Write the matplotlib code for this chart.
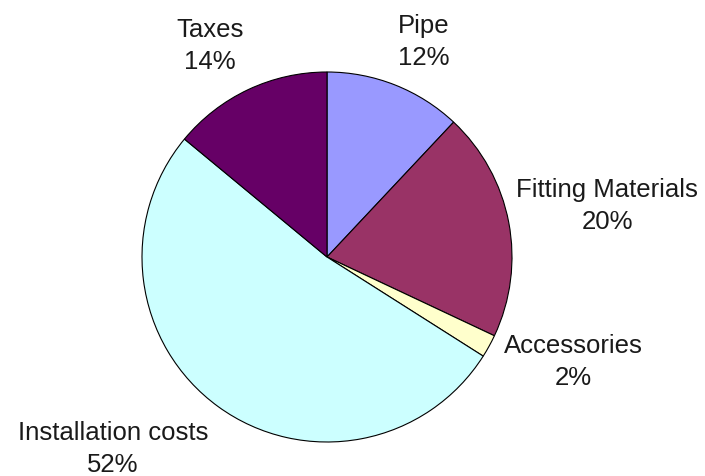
import matplotlib
matplotlib.use('Agg')
import matplotlib.pyplot as plt

# cost breakdown, clockwise from the top
labels = ['Pipe', 'Fitting Materials', 'Accessories', 'Installation costs', 'Taxes']
shares = [12, 20, 2, 52, 14]
colors = ['#9999FF', '#993366', '#FFFFCC', '#CCFFFF', '#660066']

# label centres in pie units (radius = 1)
label_pos = [(0.524, 1.17), (1.514, 0.28), (1.33, -0.56), (-1.157, -1.03), (-0.632, 1.145)]

plt.rcParams['font.family'] = ['Liberation Sans', 'DejaVu Sans']

fig = plt.figure(figsize=(7.05, 4.77), dpi=100)
cx, cy, r = 327, 258, 185
ax = fig.add_axes([(cx - r) / 705, (477 - cy - r) / 477, 2 * r / 705, 2 * r / 477])
wedges, _ = ax.pie(shares, colors=colors, startangle=90, counterclock=False,
                   radius=1, wedgeprops=dict(edgecolor='black', linewidth=0.8))
for name, val, (x, y) in zip(labels, shares, label_pos):
    ax.text(x, y, '{0}\n{1}%'.format(name, val), ha='center', va='center',
            fontsize=18.5, color='#1a1a1a', linespacing=1.42, clip_on=False)
ax.set_xlim(-1, 1)
ax.set_ylim(-1, 1)
ax.set_aspect('equal')
ax.axis('off')
fig.savefig('out.png', dpi=100)
